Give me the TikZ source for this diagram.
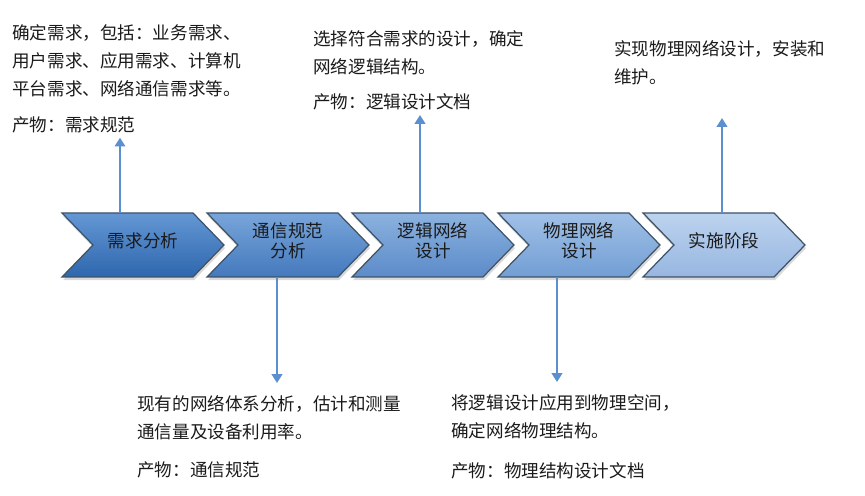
\documentclass[tikz,border=0pt]{standalone}
\usepackage{fontspec}
\setmainfont{Noto Sans CJK SC}
\usetikzlibrary{arrows.meta,shadows,calc}

\definecolor{flowblue}{HTML}{5B8FCF}
\definecolor{edgegray}{HTML}{3E5268}
\definecolor{inktext}{HTML}{1A1A1A}

\tikzset{
    stage/.style={draw=edgegray, line width=0.7pt, line join=miter,
        drop shadow={shadow xshift=0.6pt, shadow yshift=-1.8pt, opacity=0.3}},
    stagetext/.style={align=center, text=inktext,
        font=\fontsize{10pt}{11.4pt}\selectfont},
    note/.style={anchor=north west, inner sep=0pt, align=left, text=inktext,
        font=\fontsize{10pt}{15.9pt}\selectfont},
    flow/.style={->, draw=flowblue, fill=flowblue, line width=1.1pt},
}

\begin{document}
\begin{tikzpicture}[x=0.02cm, y=-0.02cm, >={Triangle[width=6pt,length=5pt]}]
    \useasboundingbox (0,0) rectangle (865,496);

    % five stages, getting lighter to the right
    \foreach \i/\xo/\ct/\cb/\lbl in {
        1/62/6497D4/2E67AE/{需求分析},
        2/207/78A5DA/4479BD/{通信规范\\分析},
        3/352/8BB2DF/5C8BC9/{逻辑网络\\设计},
        4/498/A0C0E6/729ED4/{物理网络\\设计},
        5/643/BDD3EF/97B6E0/{实施阶段}} {
        \definecolor{ctop}{HTML}{\ct}
        \definecolor{cbot}{HTML}{\cb}
        \draw[stage, top color=ctop, bottom color=cbot]
            (\xo,213) -- ++(131,0) -- ++(31,32) -- ++(-31,32)
            -- ++(-131,0) -- ++(31,-32) -- cycle;
        \node[stagetext] (s\i) at (\xo+81,241) {\lbl};
    }

    % notes above
    \node[note] (t1) at (12,24) {确定需求，包括：业务需求、\\用户需求、应用需求、计算机\\平台需求、网络通信需求等。\\[5pt]产物：需求规范};
    \node[note] (t2) at (313,30) {选择符合需求的设计，确定\\网络逻辑结构。\\[4pt]产物：逻辑设计文档};
    \node[note] (t3) at (614,40) {实现物理网络设计，安装和\\维护。};

    % notes below
    \node[note] (t4) at (137,395) {现有的网络体系分析，估计和测量\\通信量及设备利用率。\\[6pt]产物：通信规范};
    \node[note] (t5) at (451,394) {将逻辑设计应用到物理空间，\\确定网络物理结构。\\[7pt]产物：物理结构设计文档};

    \coordinate (u1) at (120,213);
    \coordinate (u2) at (420,213);
    \coordinate (u3) at (722,213);
    \coordinate (d1) at (277,277);
    \coordinate (d2) at (557,277);

    \draw[flow] (u1) -- ($(u1 |- t1.south)+(0,4)$);
    \draw[flow] (u2) -- ($(u2 |- t2.south)+(0,5)$);
    \draw[flow] (u3) -- ($(u3 |- t3.south)+(0,33)$);
    \draw[flow] (d1) -- ($(d1 |- t4.north)+(0,-12)$);
    \draw[flow] (d2) -- ($(d2 |- t5.north)+(0,-12)$);
\end{tikzpicture}
\end{document}
